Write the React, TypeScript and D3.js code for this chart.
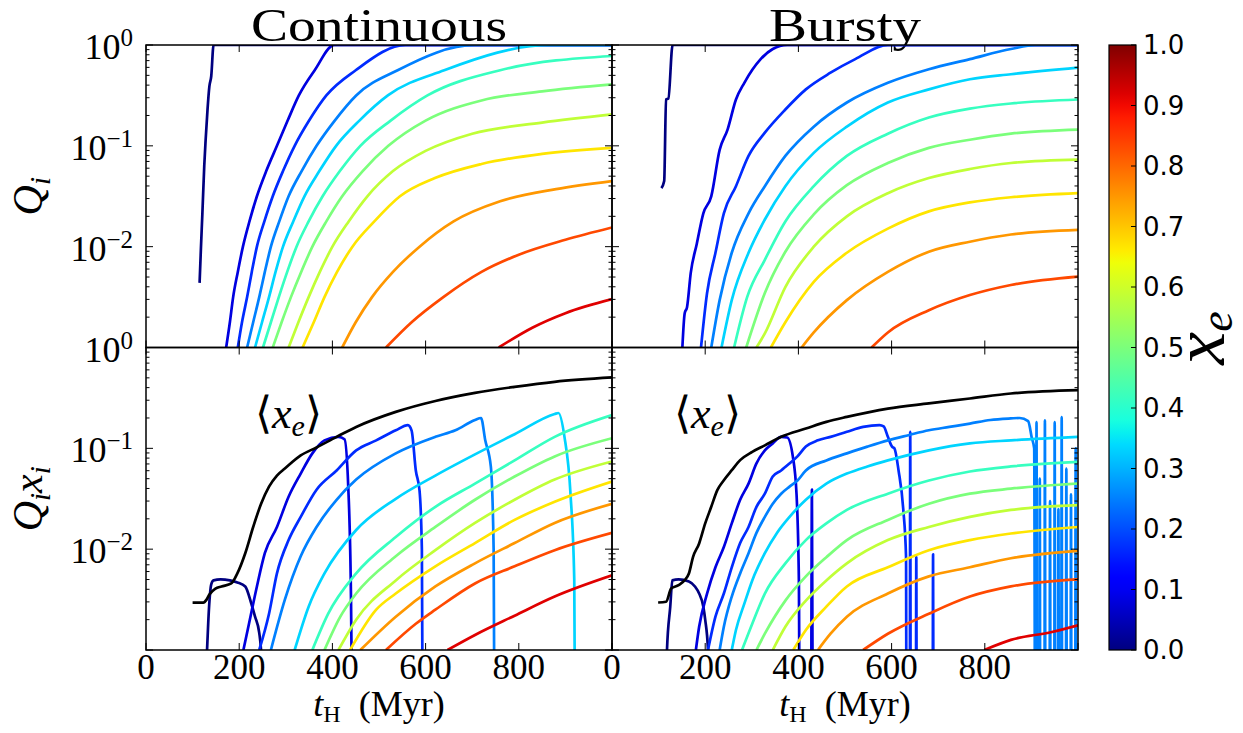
import React from "react";
import * as d3 from "d3";

type Pt = [number, number];

// ---------- tick / label data ----------
const xTicks = [0, 200, 400, 600, 800, 1000];
const xTickLabels = [0, 200, 400, 600, 800];
const yDecades = [1, 0.1, 0.01];
const yDecadeExp = ["0", "\u22121", "\u22122"];
const cbarTicks = [0, 0.1, 0.2, 0.3, 0.4, 0.5, 0.6, 0.7, 0.8, 0.9, 1.0];
const cbarTickLabels = ["0.0", "0.1", "0.2", "0.3", "0.4", "0.5", "0.6", "0.7", "0.8", "0.9", "1.0"];
const panelTitles = ["Continuous", "Bursty"];
// x_e level of each curve (colour on the jet colour bar)
const seriesLevels = [0, 0.083, 0.167, 0.25, 0.333, 0.417, 0.5, 0.583, 0.667, 0.75, 0.833, 0.917];

// ---------- Q_i, continuous ----------
const contQ: Pt[][] = [
  [[115, 0.00437], [118, 0.01], [121, 0.0214], [125, 0.0631], [128, 0.115], [132, 0.229], [136, 0.389], [140, 0.49], [145, 1], [1000, 1]],
  [[172, 0.001], [180, 0.00178], [187, 0.00316], [197, 0.00562], [208, 0.01], [222, 0.0178], [238, 0.0316], [258, 0.0562], [281, 0.1], [304, 0.178], [328, 0.316], [362, 0.562], [404, 1], [1000, 1]],
  [[197, 0.001], [206, 0.00178], [217, 0.00316], [227, 0.00562], [238, 0.01], [254, 0.0178], [272, 0.0316], [294, 0.0562], [319, 0.1], [350, 0.178], [387, 0.316], [450, 0.562], [557, 1], [1000, 1]],
  [[217, 0.001], [230, 0.00178], [243, 0.00316], [255, 0.00562], [268, 0.01], [286, 0.0178], [306, 0.0316], [334, 0.0562], [366, 0.1], [405, 0.178], [451, 0.316], [540, 0.562], [706, 1], [1000, 1]],
  [[234, 0.001], [249, 0.00178], [264, 0.00316], [278, 0.00562], [294, 0.01], [316, 0.0178], [340, 0.0316], [372, 0.0562], [408, 0.1], [458, 0.178], [519, 0.316], [640, 0.562], [868, 1], [1000, 1]],
  [[251, 0.001], [268, 0.00178], [285, 0.00316], [303, 0.00562], [323, 0.01], [349, 0.0178], [379, 0.0316], [416, 0.0562], [460, 0.1], [525, 0.178], [604, 0.316], [760, 0.562], [1000, 0.778]],
  [[272, 0.001], [291, 0.00178], [311, 0.00316], [333, 0.00562], [357, 0.01], [387, 0.0178], [421, 0.0316], [465, 0.0562], [520, 0.1], [600, 0.178], [720, 0.282], [850, 0.347], [1000, 0.407]],
  [[306, 0.001], [327, 0.00178], [349, 0.00316], [373, 0.00562], [400, 0.01], [435, 0.0178], [475, 0.0316], [530, 0.0562], [600, 0.0891], [700, 0.132], [850, 0.17], [1000, 0.205]],
  [[336, 0.001], [360, 0.00178], [383, 0.00316], [410, 0.00562], [443, 0.01], [490, 0.0178], [545, 0.0316], [620, 0.0479], [720, 0.0661], [850, 0.0832], [1000, 0.0955]],
  [[421, 0.001], [450, 0.00178], [485, 0.00316], [530, 0.00562], [587, 0.01], [660, 0.0178], [760, 0.0282], [880, 0.0372], [1000, 0.0447]],
  [[515, 0.001], [570, 0.00178], [638, 0.00316], [720, 0.00562], [800, 0.00832], [900, 0.0117], [1000, 0.0155]],
  [[757, 0.001], [830, 0.00158], [900, 0.00219], [1000, 0.00302]],
];

// ---------- Q_i, bursty ----------
const burstQ: Pt[][] = [
  [[106, 0.0381], [112, 0.0447], [116, 0.288], [121, 0.295], [130, 1], [1000, 1]],
  [[151, 0.001], [156, 0.00219], [161, 0.00251], [169, 0.0055], [182, 0.0107], [196, 0.0214], [213, 0.0316], [231, 0.0912], [248, 0.145], [266, 0.288], [284, 0.422], [319, 0.724], [345, 0.912], [376, 1], [1000, 1]],
  [[191, 0.001], [204, 0.00347], [222, 0.0087], [240, 0.0214], [266, 0.0398], [293, 0.0794], [328, 0.135], [372, 0.229], [416, 0.363], [469, 0.531], [522, 0.724], [592, 1], [1000, 1]],
  [[213, 0.001], [231, 0.00295], [257, 0.0087], [293, 0.0214], [328, 0.0398], [372, 0.0794], [433, 0.155], [504, 0.269], [592, 0.422], [680, 0.575], [768, 0.724], [856, 0.912], [909, 1], [1000, 1]],
  [[235, 0.001], [257, 0.00295], [293, 0.0087], [328, 0.0186], [372, 0.0398], [433, 0.0851], [504, 0.155], [592, 0.269], [680, 0.363], [768, 0.457], [856, 0.513], [1000, 0.596]],
  [[262, 0.001], [290, 0.00316], [328, 0.00741], [372, 0.0178], [433, 0.0398], [504, 0.0794], [592, 0.132], [680, 0.191], [768, 0.234], [856, 0.263], [1000, 0.288]],
  [[288, 0.001], [328, 0.00347], [372, 0.00891], [433, 0.0209], [504, 0.0407], [592, 0.0676], [680, 0.0955], [768, 0.115], [856, 0.132], [1000, 0.145]],
  [[310, 0.001], [328, 0.00138], [372, 0.00398], [433, 0.01], [504, 0.02], [592, 0.0339], [680, 0.0479], [768, 0.0589], [856, 0.0676], [1000, 0.0729]],
  [[341, 0.001], [372, 0.00178], [433, 0.00447], [504, 0.0087], [592, 0.0151], [680, 0.0224], [768, 0.0275], [856, 0.0309], [1000, 0.034]],
  [[407, 0.001], [433, 0.00141], [504, 0.00295], [592, 0.00562], [680, 0.00891], [768, 0.0112], [856, 0.0132], [1000, 0.0147]],
  [[557, 0.001], [592, 0.00141], [680, 0.00234], [768, 0.00331], [856, 0.00417], [1000, 0.00505]],
  [],
];

// ---------- Q_i x_i, continuous ----------
const contQx: Pt[][] = [
  [[128, 0.0005], [131, 0.001], [135, 0.00251], [140, 0.00447], [145, 0.0049], [160, 0.00501], [180, 0.0049], [196, 0.00468], [213, 0.00427], [226, 0.00288], [234, 0.00214], [243, 0.00148], [248, 0.0008], [250, 0.0001]],
  [[209, 0.001], [221, 0.00182], [238, 0.00427], [255, 0.00912], [281, 0.0166], [306, 0.0331], [332, 0.0562], [357, 0.0891], [383, 0.12], [413, 0.13], [426, 0.123], [434, 0.0417], [440, 0.003], [443, 0.0001]],
  [[243, 0.001], [264, 0.00229], [281, 0.00575], [306, 0.0123], [332, 0.0209], [366, 0.0389], [409, 0.0603], [451, 0.0955], [494, 0.12], [536, 0.151], [562, 0.17], [570, 0.15], [579, 0.0603], [587, 0.038], [592, 0.01], [594, 0.0001]],
  [[268, 0.001], [298, 0.00316], [332, 0.00851], [366, 0.0166], [409, 0.0309], [451, 0.049], [536, 0.0891], [621, 0.13], [664, 0.151], [706, 0.191], [719, 0.2], [728, 0.12], [740, 0.066], [746, 0.01], [748, 0.0001]],
  [[319, 0.001], [349, 0.00269], [383, 0.00575], [451, 0.0155], [536, 0.0316], [621, 0.0537], [706, 0.0871], [791, 0.138], [877, 0.219], [885, 0.224], [898, 0.13], [911, 0.035], [919, 0.005], [921, 0.0001]],
  [[357, 0.001], [391, 0.00229], [451, 0.00575], [536, 0.0132], [621, 0.0263], [706, 0.0447], [791, 0.0759], [877, 0.13], [1000, 0.214]],
  [[383, 0.001], [417, 0.00214], [451, 0.00363], [536, 0.00851], [621, 0.0166], [706, 0.0309], [791, 0.0525], [877, 0.0832], [1000, 0.126]],
  [[413, 0.001], [451, 0.002], [536, 0.0049], [621, 0.00977], [706, 0.0182], [791, 0.0309], [877, 0.049], [1000, 0.0741]],
  [[438, 0.001], [494, 0.00251], [536, 0.00363], [621, 0.00676], [706, 0.0115], [791, 0.0195], [877, 0.0295], [1000, 0.0468]],
  [[460, 0.001], [536, 0.00214], [621, 0.00427], [706, 0.00724], [791, 0.0115], [877, 0.0182], [1000, 0.0282]],
  [[515, 0.001], [579, 0.00182], [621, 0.00251], [706, 0.00457], [791, 0.00676], [877, 0.00977], [1000, 0.0145]],
  [[647, 0.001], [706, 0.00141], [791, 0.00219], [877, 0.00339], [1000, 0.0055]],
];
const contMean: Pt[] = [[100, 0.00295], [123, 0.00295], [130, 0.00316], [136, 0.00355], [149, 0.00407], [162, 0.00427], [183, 0.00457], [196, 0.00575], [213, 0.00912], [230, 0.0166], [247, 0.0282], [264, 0.0417], [281, 0.0537], [298, 0.0631], [332, 0.0851], [366, 0.102], [409, 0.13], [451, 0.163], [536, 0.23], [621, 0.295], [706, 0.355], [791, 0.407], [877, 0.457], [1000, 0.505]];

// ---------- Q_i x_i, bursty ----------
const burstQx: Pt[][] = [
  [[116, 0.0001], [118, 0.001], [125, 0.00269], [129.5, 0.0049], [143, 0.00501], [165, 0.00479], [178, 0.00427], [187, 0.00363], [196, 0.00269], [200, 0.002], [206, 0.001], [208, 0.0001]],
  [[180, 0.001], [187, 0.0017], [204, 0.00363], [222, 0.00661], [240, 0.0105], [257, 0.018], [275, 0.0309], [293, 0.0447], [310, 0.0708], [328, 0.0955], [345, 0.112], [363, 0.13], [376, 0.128], [388, 0.0832], [396, 0.035], [401, 0.005], [403, 0.0001], [427, 0.0001], [429, 0.039], [431, 0.0001]],
  [[206, 0.001], [222, 0.00214], [240, 0.00363], [257, 0.00661], [275, 0.0115], [293, 0.0166], [310, 0.0263], [328, 0.0355], [345, 0.0525], [363, 0.0603], [381, 0.0708], [398, 0.0832], [416, 0.104], [442, 0.12], [469, 0.13], [504, 0.146], [539, 0.163], [574, 0.17], [583, 0.165], [592, 0.13], [601, 0.104], [606, 0.1], [615, 0.06], [625, 0.025], [631, 0.0084], [632, 0.0001], [639, 0.0001], [640, 0.146], [641, 0.0001], [652, 0.0001], [653, 0.0084], [654, 0.0001], [688, 0.0001], [689, 0.0089], [690, 0.0001]],
  [[231, 0.001], [240, 0.0017], [257, 0.00339], [275, 0.00575], [293, 0.00912], [310, 0.0145], [328, 0.0209], [345, 0.0282], [363, 0.0355], [381, 0.0417], [398, 0.0479], [416, 0.0603], [460, 0.0759], [504, 0.0891], [548, 0.104], [592, 0.12], [636, 0.135], [680, 0.151], [724, 0.163], [768, 0.176], [812, 0.191], [856, 0.198], [875, 0.2], [893, 0.186], [901, 0.126], [906, 0.1], [908, 0.0001], [910, 0.0001], [911, 0.182], [912, 0.0001], [917, 0.0001], [918, 0.05], [919, 0.0001], [928, 0.0001], [929, 0.19], [930, 0.0001], [939, 0.0001], [940, 0.03], [941, 0.0001], [949, 0.0001], [950, 0.182], [951, 0.0001], [957, 0.0001], [958, 0.025], [959, 0.0001], [964, 0.0001], [965, 0.204], [966, 0.0001], [974, 0.0001], [975, 0.063], [976, 0.0001], [984, 0.0001], [985, 0.035], [986, 0.0001], [994, 0.0001], [995, 0.1], [996, 0.0001]],
  [[257, 0.001], [266, 0.00158], [284, 0.00288], [301, 0.0049], [328, 0.00912], [354, 0.0145], [381, 0.0209], [416, 0.0309], [460, 0.0447], [504, 0.0562], [548, 0.0661], [592, 0.0759], [680, 0.0955], [768, 0.112], [856, 0.12], [1000, 0.13]],
  [[279, 0.001], [301, 0.00182], [328, 0.00363], [372, 0.00724], [416, 0.0123], [460, 0.018], [504, 0.0245], [592, 0.0355], [680, 0.0479], [768, 0.0589], [856, 0.0661], [1000, 0.0734]],
  [[310, 0.001], [328, 0.00145], [372, 0.00309], [416, 0.00537], [460, 0.00832], [504, 0.0123], [592, 0.0195], [680, 0.0282], [768, 0.0355], [856, 0.0398], [1000, 0.0448]],
  [[345, 0.001], [372, 0.0017], [416, 0.00309], [460, 0.0049], [504, 0.00724], [592, 0.0123], [680, 0.0166], [768, 0.0209], [856, 0.0245], [1000, 0.0273]],
  [[389, 0.001], [416, 0.00158], [460, 0.00269], [504, 0.00427], [592, 0.00661], [680, 0.00977], [768, 0.0123], [856, 0.0143], [1000, 0.0166]],
  [[442, 0.001], [469, 0.00145], [504, 0.00214], [592, 0.00363], [680, 0.00537], [768, 0.00661], [856, 0.00813], [1000, 0.00962]],
  [[539, 0.001], [592, 0.00145], [680, 0.00229], [768, 0.00339], [856, 0.00427], [1000, 0.00501]],
  [[799, 0.001], [856, 0.00126], [944, 0.00151], [1000, 0.00176]],
];
const burstMean: Pt[] = [[99, 0.00296], [116, 0.00301], [127, 0.00407], [143, 0.0044], [156, 0.00493], [165, 0.00574], [174, 0.0084], [187, 0.0114], [200, 0.018], [213, 0.0263], [226, 0.0385], [240, 0.0483], [257, 0.0607], [275, 0.0764], [301, 0.0923], [328, 0.107], [363, 0.13], [416, 0.157], [460, 0.183], [504, 0.205], [592, 0.248], [680, 0.279], [768, 0.312], [856, 0.35], [1000, 0.378]];

// ---------- jet colour map (matplotlib segment data) ----------
const JET_R = [[0, 0], [0.35, 0], [0.66, 1], [0.89, 1], [1, 0.5]];
const JET_G = [[0, 0], [0.125, 0], [0.375, 1], [0.64, 1], [0.91, 0], [1, 0]];
const JET_B = [[0, 0.5], [0.11, 1], [0.34, 1], [0.65, 0], [1, 0]];
function seg(v: number, s: number[][]) {
  for (let i = 1; i < s.length; i++) {
    if (v <= s[i][0]) {
      const [x0, y0] = s[i - 1];
      const [x1, y1] = s[i];
      return y0 + ((v - x0) / (x1 - x0)) * (y1 - y0);
    }
  }
  return s[s.length - 1][1];
}
function jet(v: number) {
  return d3.rgb(seg(v, JET_R) * 255, seg(v, JET_G) * 255, seg(v, JET_B) * 255).formatHex();
}

// ---------- layout ----------
const LEFT = 146, MID = 612, RIGHT = 1078;
const TOP = 45, MIDY = 347.5, BOTTOM = 650;
const SERIF = "'Liberation Serif', 'DejaVu Serif', serif";
const SANS = "'DejaVu Sans', sans-serif";

const xL = d3.scaleLinear().domain([0, 1000]).range([LEFT, MID]);
const xR = d3.scaleLinear().domain([0, 1000]).range([MID, RIGHT]);
const yT = d3.scaleLog().domain([1e-3, 1]).range([MIDY, TOP]);
const yB = d3.scaleLog().domain([1e-3, 1]).range([BOTTOM, MIDY]);
const cbarScale = d3.scaleLinear().domain([0, 1]).range([BOTTOM, TOP]);

function Panel(props: { id: string; x: any; y: any; curves: Pt[][]; mean?: Pt[] }) {
  const { id, x, y, curves, mean } = props;
  const line = d3.line<Pt>().x((d) => x(d[0])).y((d) => y(d[1])).curve(d3.curveMonotoneX);
  const [x0, x1] = x.range();
  const [yb, yt] = y.range();
  const yTicks: number[] = y.ticks();
  const isMajor = (v: number) => Math.abs(Math.log10(v) - Math.round(Math.log10(v))) < 1e-6;
  return (
    <g>
      <defs>
        <clipPath id={id}>
          <rect x={x0} y={yt} width={x1 - x0} height={yb - yt} />
        </clipPath>
      </defs>
      <g clipPath={`url(#${id})`} fill="none" strokeLinejoin="round" strokeLinecap="butt">
        {curves.map((c, i) =>
          c.length ? <path key={i} d={line(c) || ""} stroke={jet(seriesLevels[i])} strokeWidth={2.7} /> : null
        )}
        {mean ? <path d={line(mean) || ""} stroke="#000" strokeWidth={2.7} /> : null}
      </g>
      <g stroke="#000" strokeWidth={1}>
        {xTicks.map((t) => (
          <g key={"xt" + t}>
            <line x1={x(t)} x2={x(t)} y1={yb} y2={yb - 7} />
            <line x1={x(t)} x2={x(t)} y1={yt} y2={yt + 7} />
          </g>
        ))}
        {yTicks.map((v, i) => {
          const L = isMajor(v) ? 7 : 3.5;
          return (
            <g key={"yt" + i}>
              <line x1={x0} x2={x0 + L} y1={y(v)} y2={y(v)} />
              <line x1={x1} x2={x1 - L} y1={y(v)} y2={y(v)} />
            </g>
          );
        })}
      </g>
      <rect x={x0} y={yt} width={x1 - x0} height={yb - yt} fill="none" stroke="#000" strokeWidth={1.5} />
    </g>
  );
}

function YLabels(props: { y: any }) {
  const { y } = props;
  return (
    <g fontFamily={SERIF} fill="#000">
      {yDecades.map((v, i) => (
        <text key={i} x={133} y={y(v) + 14} textAnchor="end" fontSize={36}>
          10
          <tspan fontSize={25} dy={-13}>{yDecadeExp[i]}</tspan>
        </text>
      ))}
    </g>
  );
}

function XLabels(props: { x: any }) {
  const { x } = props;
  return (
    <g fontFamily={SERIF} fill="#000" fontSize={35} textAnchor="middle">
      {xTickLabels.map((t) => (
        <text key={t} x={x(t)} y={679}>{t}</text>
      ))}
    </g>
  );
}

function TimeLabel(props: { cx: number }) {
  return (
    <text x={props.cx} y={716} textAnchor="middle" fontFamily={SERIF} fontSize={36} fill="#000">
      <tspan fontStyle="italic">t</tspan>
      <tspan fontSize={24} dy={6}>H</tspan>
      <tspan dy={-6}>{"\u2002(Myr)"}</tspan>
    </text>
  );
}

function MeanLabel(props: { x: number }) {
  return (
    <text x={props.x} y={428} fontFamily={SERIF} fontSize={44} fill="#000">
      <tspan fontFamily={SANS} fontWeight={300}>{"\u27E8"}</tspan>
      <tspan fontStyle="italic">x</tspan>
      <tspan fontStyle="italic" fontSize={30} dy={8}>e</tspan>
      <tspan fontFamily={SANS} fontWeight={300} dy={-8}>{"\u27E9"}</tspan>
    </text>
  );
}

export default function App() {
  const gradStops = d3.range(0, 1.0001, 0.02);
  return (
    <svg
      width={1243}
      height={733}
      viewBox="0 0 1243 733"
      style={{ position: "absolute", left: 0, top: 0, background: "#fff" }}
    >
      <rect x={0} y={0} width={1243} height={733} fill="#fff" />
      <defs>
        <linearGradient id="jetGrad" x1="0" y1="1" x2="0" y2="0">
          {gradStops.map((s, i) => (
            <stop key={i} offset={s} stopColor={jet(s)} />
          ))}
        </linearGradient>
      </defs>

      {/* titles */}
      <text x={(LEFT + MID) / 2} y={41} textAnchor="middle" fontFamily={SERIF} fontSize={46} textLength={256} lengthAdjust="spacingAndGlyphs" fill="#000">{panelTitles[0]}</text>
      <text x={(MID + RIGHT) / 2} y={41} textAnchor="middle" fontFamily={SERIF} fontSize={46} textLength={152} lengthAdjust="spacingAndGlyphs" fill="#000">{panelTitles[1]}</text>

      <Panel id="cq" x={xL} y={yT} curves={contQ} />
      <Panel id="bq" x={xR} y={yT} curves={burstQ} />
      <Panel id="cqx" x={xL} y={yB} curves={contQx} mean={contMean} />
      <Panel id="bqx" x={xR} y={yB} curves={burstQx} mean={burstMean} />

      <YLabels y={yT} />
      <YLabels y={yB} />
      <XLabels x={xL} />
      <XLabels x={xR} />
      <TimeLabel cx={(LEFT + MID) / 2} />
      <TimeLabel cx={(MID + RIGHT) / 2} />

      {/* y axis titles */}
      <text transform={`translate(42,${(TOP + MIDY) / 2}) rotate(-90)`} textAnchor="middle" fontFamily={SERIF} fontSize={42} fill="#000">
        <tspan fontStyle="italic">Q</tspan>
        <tspan fontStyle="italic" fontSize={29} dy={8}>i</tspan>
      </text>
      <text transform={`translate(42,${(MIDY + BOTTOM) / 2}) rotate(-90)`} textAnchor="middle" fontFamily={SERIF} fontSize={42} fill="#000">
        <tspan fontStyle="italic">Q</tspan>
        <tspan fontStyle="italic" fontSize={29} dy={8}>i</tspan>
        <tspan fontStyle="italic" dy={-8}>x</tspan>
        <tspan fontStyle="italic" fontSize={29} dy={8}>i</tspan>
      </text>

      <MeanLabel x={xL(234)} />
      <MeanLabel x={xR(133)} />

      {/* colour bar */}
      <rect x={1109} y={TOP} width={27} height={BOTTOM - TOP} fill="url(#jetGrad)" stroke="#000" strokeWidth={1.2} />
      <g stroke="#000" strokeWidth={1}>
        {cbarTicks.map((v, i) => (
          <line key={i} x1={1136} x2={1131} y1={cbarScale(v)} y2={cbarScale(v)} />
        ))}
      </g>
      <g fontFamily={SANS} fontSize={26} fill="#000">
        {cbarTicks.map((v, i) => (
          <text key={i} x={1143} y={cbarScale(v)} dominantBaseline="central">{cbarTickLabels[i]}</text>
        ))}
      </g>
      <text transform={`translate(1224,338) rotate(-90)`} textAnchor="middle" fontFamily={SERIF} fontSize={74} fill="#000">
        <tspan fontStyle="italic">x</tspan>
        <tspan fontStyle="italic" fontSize={46} dy={8}>e</tspan>
      </text>
    </svg>
  );
}
